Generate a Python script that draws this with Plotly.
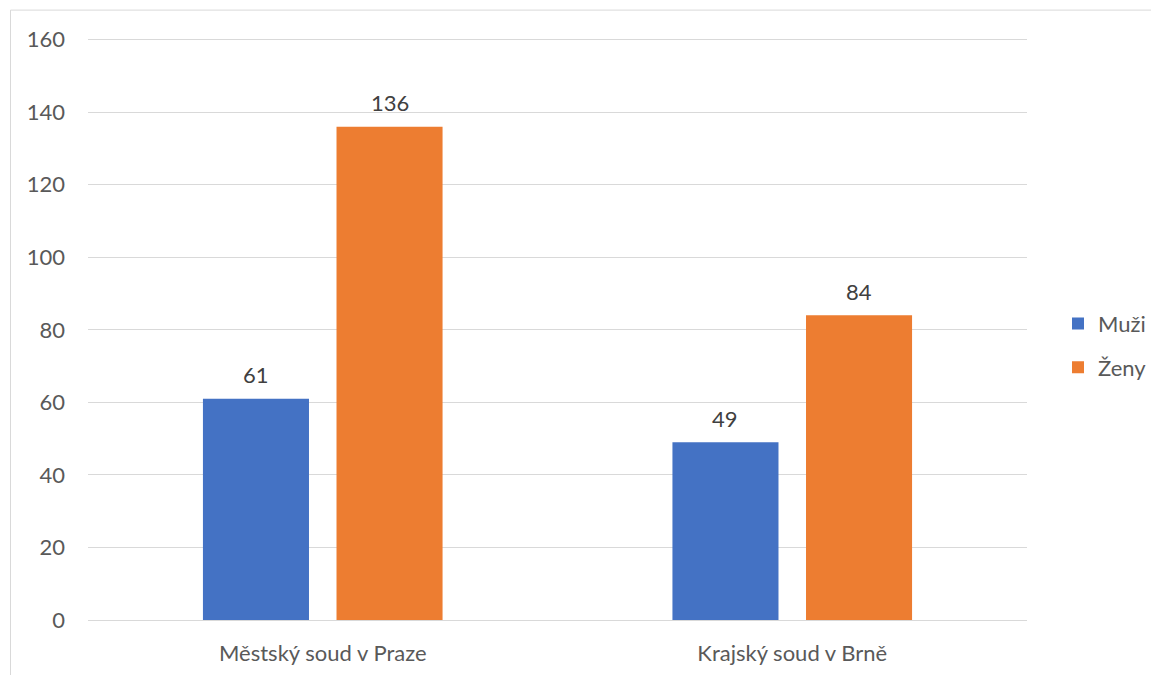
import plotly.graph_objects as go

categories = ["Městský soud v Praze", "Krajský soud v Brně"]
muzi = [61, 49]
zeny = [136, 84]
series_names = ["Muži", "Ženy"]
colors = ["#4472C4", "#ED7D31"]
y_ticks = [0, 20, 40, 60, 80, 100, 120, 140, 160]

FONT = "Lato, Open Sans, sans-serif"
TXT = "#595959"
FS = 22

W, H = 1151, 675
Y_TOP = 161  # small headroom so the 160 gridline is not clipped at the edge
L, R, B = 88, 124, 55
T = (H - B) - (H - B - 40) * Y_TOP / 160
pw, ph = W - L - R, H - T - B

BARGAP, BARGROUPGAP = 0.431, 0.206

def px_x(p):
    return (p - L) / pw

def px_y(p):
    return (H - B - p) / ph

fig = go.Figure()
for name, vals, col in zip(series_names, [muzi, zeny], colors):
    fig.add_trace(go.Bar(
        x=categories, y=vals, name=name, legendgroup=name,
        marker=dict(color=col, line=dict(width=0)),
    ))

# data labels above bars, horizontally offset to each bar's slot
cat_px = pw / len(categories)
slot_px = cat_px * (1 - BARGAP) / len(series_names)
annotations = []
for si, vals in enumerate([muzi, zeny]):
    shift = (si - (len(series_names) - 1) / 2) * slot_px
    for cat, v in zip(categories, vals):
        annotations.append(dict(
            x=cat, y=v, xref="x", yref="y", text=str(v), showarrow=False,
            xshift=shift, yshift=24, yanchor="middle",
            font=dict(family=FONT, size=FS, color="#404040"),
        ))

fig.update_layout(
    width=W, height=H,
    margin=dict(l=L, r=R, t=T, b=B, autoexpand=False),
    paper_bgcolor="white", plot_bgcolor="white",
    barmode="group", bargap=BARGAP, bargroupgap=BARGROUPGAP,
    font=dict(family=FONT, size=FS, color=TXT),
    showlegend=True,
    legend=dict(x=px_x(1058), y=px_y(346), xanchor="left", yanchor="middle",
                font=dict(family=FONT, size=FS, color=TXT), tracegroupgap=12,
                traceorder="grouped", itemwidth=30, bgcolor="rgba(0,0,0,0)"),
    xaxis=dict(showline=False, showgrid=False, ticks="", ticklabelstandoff=18,
               tickfont=dict(family=FONT, size=FS, color=TXT)),
    yaxis=dict(range=[0, Y_TOP], tickvals=y_ticks, showgrid=True, gridcolor="#D9D9D9",
               gridwidth=1, zeroline=True, zerolinecolor="#D9D9D9", zerolinewidth=1,
               showline=False, ticks="", ticklabelstandoff=22,
               tickfont=dict(family=FONT, size=FS, color=TXT)),
    annotations=annotations,
    shapes=[dict(type="rect", xref="paper", yref="paper",
                 x0=px_x(10.5), y0=px_y(700), x1=px_x(1170), y1=px_y(10.5),
                 line=dict(color="#D9D9D9", width=1), fillcolor="rgba(0,0,0,0)", layer="below")],
)

fig.write_html("out.html", config={"displayModeBar": False},
               post_script="document.body.style.margin='0';document.body.style.overflow='hidden';")
